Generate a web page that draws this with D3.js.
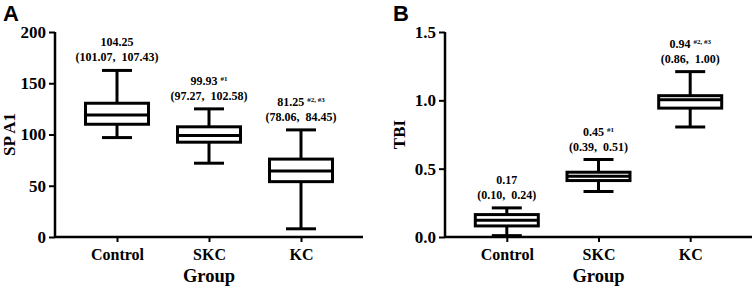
<!DOCTYPE html>
<html>
<head>
<meta charset="utf-8">
<script src="https://cdn.jsdelivr.net/npm/d3@7"></script>
<style>
  body { margin: 0; background: #fff; }
  svg text { font-family: "Liberation Serif", "Times New Roman", serif; font-weight: bold; fill: #000; }
  .panel-letter { font-family: "Liberation Sans", Arial, sans-serif; font-size: 22px; }
</style>
</head>
<body>
<div id="chart"></div>
<script>
// Groups
const groups = ["Control", "SKC", "KC"]

// Panel A: SP A1 box plot values (whisker low, Q1, median, Q3, whisker high)
const spa1Low = [97, 72, 8]
const spa1Q1 = [110, 92.5, 54]
const spa1Median = [119, 99, 64.5]
const spa1Q3 = [130.5, 107.5, 76]
const spa1High = [162.5, 125, 104.5]
const spa1Mean = ["104.25", "99.93", "81.25"]
const spa1CI = ["(101.07,  107.43)", "(97.27,  102.58)", "(78.06,  84.45)"]
const spa1Sig = ["", "#1", "#2, #3"]
const spa1Ticks = [0, 50, 100, 150, 200]

// Panel B: TBI box plot values
const tbiLow = [0.01, 0.333, 0.805]
const tbiQ1 = [0.081, 0.413, 0.943]
const tbiMedian = [0.122, 0.445, 1.005]
const tbiQ3 = [0.164, 0.474, 1.034]
const tbiHigh = [0.213, 0.567, 1.21]
const tbiMean = ["0.17", "0.45", "0.94"]
const tbiCI = ["(0.10,  0.24)", "(0.39,  0.51)", "(0.86,  1.00)"]
const tbiSig = ["", "#1", "#2, #3"]
const tbiTicks = [0, 0.5, 1.0, 1.5]

const width = 754, height = 289

const svg = d3.select("#chart").append("svg")
    .attr("width", width)
    .attr("height", height)

function drawPanel(opts) {
    const x = d3.scalePoint().domain(groups).range([opts.left, opts.right]).padding(0.674)
    const y = d3.scaleLinear().domain(opts.domain).range([237, 32])

    const g = svg.append("g")

    // Axes
    const yAxis = g.append("g")
        .attr("transform", `translate(${opts.left},0)`)
        .call(d3.axisLeft(y).tickValues(opts.ticks).tickFormat(d3.format(opts.fmt)).tickSize(6).tickPadding(3))
    const xAxis = g.append("g")
        .attr("transform", `translate(0,${y(0)})`)
        .call(d3.axisBottom(x).tickSize(5).tickPadding(7))

    for (const ax of [xAxis, yAxis]) {
        ax.select(".domain").attr("stroke-width", 2.5)
        ax.selectAll(".tick line").attr("stroke-width", 2)
    }
    yAxis.selectAll("text").style("font-size", "17px")
    xAxis.selectAll("text").style("font-size", "16px")
    xAxis.select(".domain").attr("d", `M${opts.left},0H${opts.right}`)
    yAxis.select(".domain").attr("d", `M0,${y(0)}V${y(opts.domain[1])}`)

    // Axis titles
    g.append("text")
        .attr("transform", `translate(${opts.left - 46},${(y(0) + y(opts.domain[1])) / 2}) rotate(-90)`)
        .attr("text-anchor", "middle")
        .attr("dy", "0.35em")
        .attr("xml:space", "preserve")
        .style("font-size", "17px")
        .style("white-space", "pre")
        .text(opts.yLabel)
    g.append("text")
        .attr("x", (opts.left + opts.right) / 2)
        .attr("y", 282)
        .attr("text-anchor", "middle")
        .style("font-size", "18.5px")
        .text("Group")

    g.append("text")
        .attr("class", "panel-letter")
        .attr("x", opts.left - 52)
        .attr("y", 21)
        .text(opts.letter)

    // Boxes
    const boxW = 63, capW = 30
    const data = groups.map((grp, i) => ({
        grp, low: opts.low[i], q1: opts.q1[i], med: opts.median[i], q3: opts.q3[i], high: opts.high[i],
        mean: opts.mean[i], ci: opts.ci[i], sig: opts.sig[i]
    }))

    const box = g.selectAll("g.box")
        .data(data)
        .join("g")
        .attr("class", "box")
        .attr("stroke", "#000")
        .attr("stroke-width", 3)
        .attr("fill", "none")

    box.append("line")
        .attr("x1", d => x(d.grp)).attr("x2", d => x(d.grp))
        .attr("y1", d => y(d.low)).attr("y2", d => y(d.q1))
    box.append("line")
        .attr("x1", d => x(d.grp)).attr("x2", d => x(d.grp))
        .attr("y1", d => y(d.q3)).attr("y2", d => y(d.high))
    box.append("line")
        .attr("x1", d => x(d.grp) - capW / 2).attr("x2", d => x(d.grp) + capW / 2)
        .attr("y1", d => y(d.low)).attr("y2", d => y(d.low))
    box.append("line")
        .attr("x1", d => x(d.grp) - capW / 2).attr("x2", d => x(d.grp) + capW / 2)
        .attr("y1", d => y(d.high)).attr("y2", d => y(d.high))
    box.append("rect")
        .attr("x", d => x(d.grp) - boxW / 2)
        .attr("width", boxW)
        .attr("y", d => y(d.q3))
        .attr("height", d => y(d.q1) - y(d.q3))
        .attr("fill", "#fff")
    box.append("line")
        .attr("x1", d => x(d.grp) - boxW / 2).attr("x2", d => x(d.grp) + boxW / 2)
        .attr("y1", d => y(d.med)).attr("y2", d => y(d.med))

    // Annotations above each box
    const ann = g.selectAll("g.ann")
        .data(data)
        .join("g")
        .attr("class", "ann")
        .attr("transform", d => `translate(${x(d.grp)},${y(d.high)})`)

    const meanText = ann.append("text")
        .attr("y", -24)
        .attr("text-anchor", "middle")
        .style("font-size", "12px")
    meanText.append("tspan").text(d => d.mean)
    meanText.filter(d => d.sig).append("tspan")
        .attr("dx", 3)
        .attr("dy", -4)
        .style("font-size", "7px")
        .text(d => d.sig)

    ann.append("text")
        .attr("y", -9)
        .attr("text-anchor", "middle")
        .attr("xml:space", "preserve")
        .style("font-size", "12px")
        .style("white-space", "pre")
        .text(d => d.ci)
}

drawPanel({
    letter: "A", left: 55, right: 363, domain: [0, 200], ticks: spa1Ticks, fmt: "d", yLabel: "SP A1",
    low: spa1Low, q1: spa1Q1, median: spa1Median, q3: spa1Q3, high: spa1High,
    mean: spa1Mean, ci: spa1CI, sig: spa1Sig
})

drawPanel({
    letter: "B", left: 445, right: 752, domain: [0, 1.5], ticks: tbiTicks, fmt: ".1f", yLabel: "TBI",
    low: tbiLow, q1: tbiQ1, median: tbiMedian, q3: tbiQ3, high: tbiHigh,
    mean: tbiMean, ci: tbiCI, sig: tbiSig
})
</script>
</body>
</html>
